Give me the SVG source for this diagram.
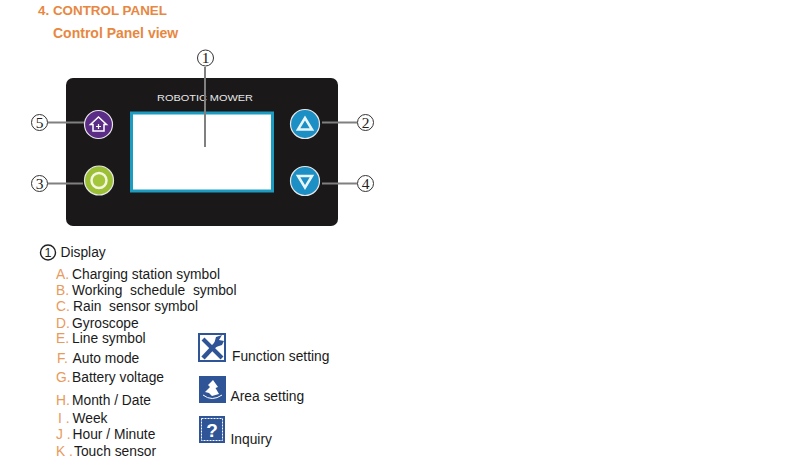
<svg xmlns="http://www.w3.org/2000/svg" width="791" height="462" viewBox="0 0 791 462">
<style>
text{font-family:"Liberation Sans",Arial,sans-serif;white-space:pre}
.h{font-weight:bold;fill:#e8873f}
.t{font-size:13.800px;fill:#1a1a1a}
.o{font-size:13.800px;fill:#e89a5c}
.n{font-family:"Liberation Serif",serif;font-size:15.500px;fill:#222;text-anchor:middle}
.c{fill:#fff;stroke:#333;stroke-width:1}
.l{stroke:#808080;stroke-width:2;fill:none}
.ring{stroke:#e8e8e8;stroke-width:1.200}
.ic{fill:#2f5597}
</style>
<rect width="791" height="462" fill="#fff"/>
<text class="h" x="38" y="15" font-size="13.400">4. CONTROL PANEL</text>
<text class="h" x="53" y="38" font-size="14">Control Panel view</text>
<g id="panel">
<rect x="66" y="78" width="272" height="148" rx="7" fill="#1a1819"/>
<text x="205" y="101" font-size="8.500" fill="#e8e8e8" text-anchor="middle" textLength="96" lengthAdjust="spacingAndGlyphs">ROBOTIC MOWER</text>
</g>
<g id="screen"><rect x="131.500" y="113" width="141" height="78" fill="#fff" stroke="#1b9cc0" stroke-width="3"/></g>
<g id="btn5"><circle cx="98.500" cy="124.500" r="14" fill="#5b2d86" class="ring"/><path d="M98.500 117L106.500 124.500H104V131H93V124.500H90.500Z" fill="none" stroke="#fff" stroke-width="1.500"/><path d="M96 126.500H101M98.500 124V129" stroke="#fff" stroke-width="1.200"/></g>
<g id="btn3"><circle cx="99" cy="180.500" r="14.500" fill="#9bbf35" class="ring"/><circle cx="99" cy="180.500" r="7.500" fill="#a3c63c" stroke="#f4f6e0" stroke-width="2.500"/></g>
<g id="btn2"><circle cx="305" cy="124" r="14.500" fill="#1c8fc4" class="ring"/><path d="M305 118L312 129.500H298Z" fill="none" stroke="#e8f6fb" stroke-width="2.500"/></g>
<g id="btn4"><circle cx="305" cy="181" r="14.500" fill="#1c8fc4" class="ring"/><path d="M298 176H312L305 187.500Z" fill="none" stroke="#e8f6fb" stroke-width="2.500"/></g>
<g id="connectors">
<path class="l" d="M205 67V147"/>
<path class="l" d="M48 122.500H84"/>
<path class="l" d="M48 183.500H83"/>
<path class="l" d="M322 122.500H357"/>
<path class="l" d="M322 183.500H357"/>
</g>
<g id="n1"><circle class="c" cx="205.500" cy="58" r="8"/><text class="n" x="205.500" y="63">1</text></g>
<g id="n5"><circle class="c" cx="39.500" cy="122.500" r="8"/><text class="n" x="39.500" y="127.500">5</text></g>
<g id="n3"><circle class="c" cx="39.500" cy="183.500" r="8"/><text class="n" x="39.500" y="188.500">3</text></g>
<g id="n2"><circle class="c" cx="365.500" cy="122.500" r="8"/><text class="n" x="365.500" y="127.500">2</text></g>
<g id="n4"><circle class="c" cx="365.500" cy="183.500" r="8"/><text class="n" x="365.500" y="188.500">4</text></g>
<g id="legend">
<circle cx="48" cy="252.500" r="7.500" fill="#fff" stroke="#222" stroke-width="1.400"/>
<text x="48" y="257" font-size="12.500" fill="#222" text-anchor="middle">1</text>
<text class="t" x="60.500" y="257">Display</text>
<text class="o" x="56" y="279">A.</text><text class="t" x="72" y="279">Charging station symbol</text>
<text class="o" x="56" y="295">B.</text><text class="t" x="72" y="295">Working  schedule  symbol</text>
<text class="o" x="56" y="311">C.</text><text class="t" x="73" y="311">Rain  sensor symbol</text>
<text class="o" x="56" y="328">D.</text><text class="t" x="72" y="328">Gyroscope</text>
<text class="o" x="56" y="343">E.</text><text class="t" x="72" y="343">Line symbol</text>
<text class="o" x="57" y="363">F.</text><text class="t" x="72.500" y="363">Auto mode</text>
<text class="o" x="56" y="382">G.</text><text class="t" x="72" y="382">Battery voltage</text>
<text class="o" x="56" y="405">H.</text><text class="t" x="72" y="405">Month / Date</text>
<text class="o" x="58" y="423">I .</text><text class="t" x="72.500" y="423">Week</text>
<text class="o" x="56" y="439">J .</text><text class="t" x="72.500" y="439">Hour / Minute</text>
<text class="o" x="56" y="456">K .</text><text class="t" x="74" y="456">Touch sensor</text>
</g>
<g id="icon-function">
<rect x="199" y="334" width="26" height="27" fill="#fff" stroke="#2f5597" stroke-width="2"/>
<path d="M203 339L222 358" stroke="#2f5597" stroke-width="4"/>
<path d="M203 358L217 343" stroke="#2f5597" stroke-width="4.500"/>
<path d="M214 344L216 337L222 335L219 340L224 341L222 345L216 347Z" class="ic"/>
<text class="t" x="232" y="361">Function setting</text>
</g>
<g id="icon-area">
<rect x="199.500" y="376.500" width="26" height="26" class="ic" stroke="#2f5597"/>
<path d="M213 380L218 387L215.500 388L219 394L212 396L209 393L205 392L210 387L208 385Z" fill="#fff"/>
<path d="M203 395Q212 402 222 395" fill="none" stroke="#fff"/>
<text class="t" x="230.500" y="401">Area setting</text>
</g>
<g id="icon-inquiry">
<rect x="199" y="416" width="26" height="27" class="ic"/>
<rect x="201.500" y="418.500" width="21" height="22" fill="none" stroke="#fff" stroke-dasharray="2 1"/>
<text x="212" y="437" font-size="19" font-weight="bold" fill="#fff" text-anchor="middle">?</text>
<text class="t" x="230.500" y="444">Inquiry</text>
</g>
</svg>
